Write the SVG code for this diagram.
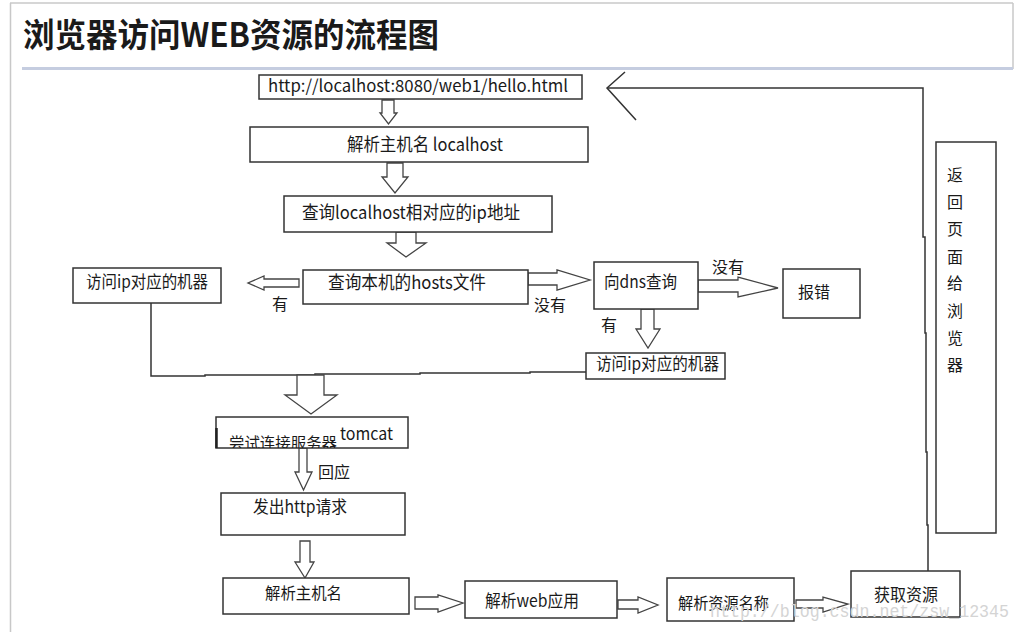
<svg xmlns="http://www.w3.org/2000/svg" width="1022" height="632" viewBox="0 0 1022 632">
<defs>
<style>
.box{fill:#fff;stroke:#333;stroke-width:1.5}
.arr{fill:#fff;stroke:#444;stroke-width:1.3;stroke-linejoin:miter}
.ln{fill:none;stroke:#333;stroke-width:1.5}
text{font-family:"Noto Sans CJK SC","Liberation Sans",sans-serif;fill:#1a1a1a}
.t16{font-size:16px}
.t17{font-size:17px}
.t18{font-size:18px}
</style>
<clipPath id="clipTomcat"><rect x="216" y="417" width="192" height="31"/></clipPath>
</defs>
<rect x="0" y="0" width="1022" height="632" fill="#fff"/>
<!-- page frame -->
<g id="frame">
<line x1="10" y1="3" x2="1013" y2="3" stroke="#c8c8c8" stroke-width="1.5"/>
<line x1="10.5" y1="3" x2="10.5" y2="632" stroke="#c8c8c8" stroke-width="1.5"/>
<line x1="1013" y1="3" x2="1013" y2="69" stroke="#c8c8c8" stroke-width="1.5"/>
<line x1="22" y1="68.5" x2="1013" y2="68.5" stroke="#c5cde0" stroke-width="3"/>
<text x="23" y="47" font-size="33" font-weight="bold" fill="#000" textLength="416" lengthAdjust="spacingAndGlyphs">浏览器访问WEB资源的流程图</text>
</g>

<g id="connectors">
<!-- URL -> parse host -->
<polygon class="arr" points="382,100 394,100 394,113 397,113 388.5,124 380,113 382,113"/>
<!-- parse host -> query ip -->
<polygon class="arr" points="387,163 403,163 403,177 408,177 395,193 382,177 387,177"/>
<!-- query ip -> hosts -->
<polygon class="arr" points="396,232 416,232 416,243 426,243 406,257 387,243 396,243"/>
<!-- hosts -> left visit (有) -->
<polygon class="arr" points="299,279 299,287 264,287 264,290 248,283 264,276 264,279"/>
<!-- hosts -> dns (没有) -->
<polygon class="arr" points="528,273 557,273 557,270 590,280 557,290 557,285 528,285"/>
<!-- dns -> error (没有) -->
<polygon class="arr" points="698,280 738,280 738,277 778,288 738,297 738,292 698,292"/>
<!-- dns -> lower visit (有) -->
<polygon class="arr" points="641,309 654,309 654,329 660,329 648,348 636,329 641,329"/>
<!-- merge line -->
<path class="ln" d="M151,303 V376 H205 V375 H315 V374 H420 V373 H530 V372 H586"/>
<!-- merge -> tomcat -->
<polygon class="arr" points="297,375 324,375 324,395 337,395 311,414 285,395 297,395"/>
<!-- tomcat -> http request -->
<polygon class="arr" points="299,448 307,448 307,472 312,472 303.5,490 295,472 299,472"/>
<!-- http request -> parse host name -->
<polygon class="arr" points="300,541 310,541 310,562 314,562 305,578 295,562 300,562"/>
<!-- bottom row -->
<polygon class="arr" points="415,597 438,597 438,595 463,603 438,612 438,609 415,609"/>
<polygon class="arr" points="618,600 638,600 638,597 658,605 638,613 638,609 618,609"/>
<polygon class="arr" points="796,600 823,600 823,597 848,604 823,612 823,608 796,608"/>
<!-- return to browser -->
<path class="ln" d="M928,572 V525 H927 V452 H926 V333 H925 V237 H923 V88 H607"/>
<path class="ln" d="M625,72 L607,88 L636,120"/>
</g>

<g id="n-url">
<rect class="box" x="259" y="75" width="323" height="24"/>
<text class="t17" x="268" y="92" textLength="300" lengthAdjust="spacingAndGlyphs">http://localhost:8080/web1/hello.html</text>
</g>
<g id="n-parse-host">
<rect class="box" x="250" y="127" width="338" height="35"/>
<text class="t18" x="347" y="151" textLength="156" lengthAdjust="spacingAndGlyphs">解析主机名 localhost</text>
</g>
<g id="n-query-ip">
<rect class="box" x="284" y="196" width="268" height="36"/>
<text class="t18" x="302" y="219" textLength="218" lengthAdjust="spacingAndGlyphs">查询localhost相对应的ip地址</text>
</g>
<g id="n-hosts">
<rect class="box" x="303" y="270" width="225" height="34"/>
<text class="t18" x="328" y="289" textLength="158" lengthAdjust="spacingAndGlyphs">查询本机的hosts文件</text>
</g>
<g id="n-visit-left">
<rect class="box" x="73" y="268" width="148" height="35"/>
<text class="t17" x="86" y="288" textLength="122" lengthAdjust="spacingAndGlyphs">访问ip对应的机器</text>
</g>
<g id="n-dns">
<rect class="box" x="594" y="262" width="104" height="47"/>
<text class="t17" x="604" y="288" textLength="73" lengthAdjust="spacingAndGlyphs">向dns查询</text>
</g>
<g id="n-error">
<rect class="box" x="783" y="269" width="77" height="49"/>
<text class="t16" x="798" y="298">报错</text>
</g>
<g id="n-visit-right">
<rect class="box" x="586" y="353" width="139" height="26"/>
<text class="t17" x="596" y="370" textLength="123" lengthAdjust="spacingAndGlyphs">访问ip对应的机器</text>
</g>
<g id="labels">
<text class="t16" x="272" y="310">有</text>
<text class="t16" x="534" y="311">没有</text>
<text class="t16" x="712" y="273">没有</text>
<text class="t16" x="601" y="331">有</text>
<text class="t16" x="318" y="478">回应</text>
</g>
<g id="n-tomcat">
<rect class="box" x="216" y="417" width="192" height="31"/>
<line x1="216.5" y1="428" x2="216.5" y2="448" stroke="#222" stroke-width="2.5"/>
<g clip-path="url(#clipTomcat)">
<text class="t16" x="229" y="449" textLength="108" lengthAdjust="spacingAndGlyphs">尝试连接服务器</text>
</g>
<text class="t17" x="340" y="440" textLength="53" lengthAdjust="spacingAndGlyphs">tomcat</text>
</g>
<g id="n-http">
<rect class="box" x="221" y="493" width="184" height="42"/>
<text class="t17" x="253" y="513" textLength="94" lengthAdjust="spacingAndGlyphs">发出http请求</text>
</g>
<g id="n-parse-name">
<rect class="box" x="223" y="578" width="186" height="36"/>
<text class="t16" x="265" y="599" textLength="77" lengthAdjust="spacingAndGlyphs">解析主机名</text>
</g>
<g id="n-webapp">
<rect class="box" x="465" y="581" width="152" height="37"/>
<text class="t17" x="485" y="607" textLength="94" lengthAdjust="spacingAndGlyphs">解析web应用</text>
</g>
<g id="n-resname">
<rect class="box" x="667" y="578" width="127" height="43"/>
<text class="t16" x="678" y="609" textLength="91" lengthAdjust="spacingAndGlyphs">解析资源名称</text>
</g>
<g id="n-get">
<rect class="box" x="851" y="571" width="109" height="46"/>
<text class="t17" x="874" y="601" textLength="64" lengthAdjust="spacingAndGlyphs">获取资源</text>
</g>
<g id="n-return">
<rect class="box" x="936" y="142" width="60" height="391"/>
<g class="t16">
<text x="947" y="181">返</text>
<text x="947" y="208">回</text>
<text x="947" y="235">页</text>
<text x="947" y="263">面</text>
<text x="947" y="289">给</text>
<text x="947" y="317">浏</text>
<text x="947" y="344">览</text>
<text x="947" y="371">器</text>
</g>
</g>
<text x="710" y="617" font-family="Liberation Mono,monospace" font-size="18" fill="#d4d4d4" style="fill:#d4d4d4;font-family:'Liberation Mono',monospace" textLength="299" lengthAdjust="spacingAndGlyphs">http://blog.csdn.net/zsw_12345</text>
</svg>
